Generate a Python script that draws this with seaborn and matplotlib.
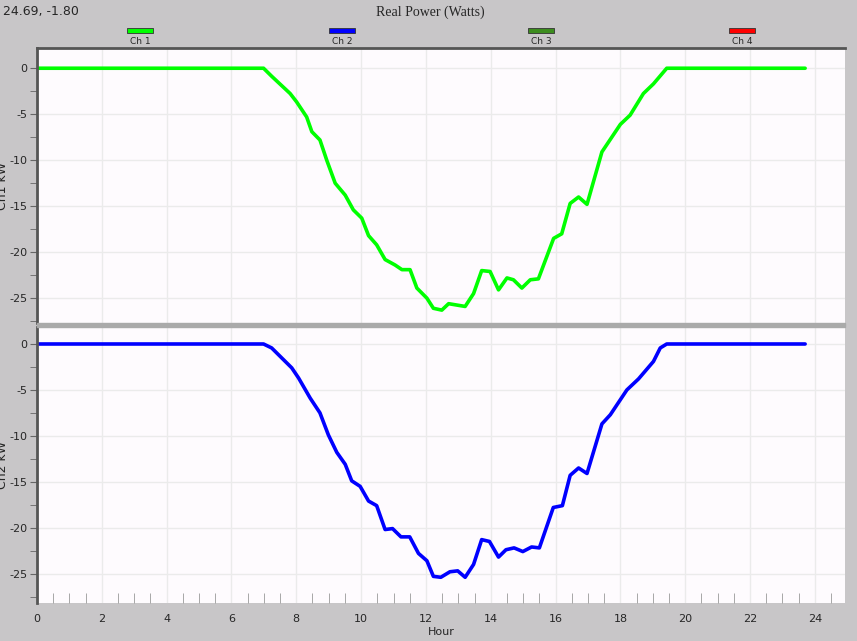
import numpy as np
import pandas as pd
import matplotlib
matplotlib.use('Agg')
from matplotlib import pyplot as plt
import seaborn as sns

# hour / kW readings
ch1_hour = [0, 6.99, 7.24, 7.81, 8.01, 8.32, 8.48, 8.73, 8.94, 9.2, 9.51, 9.76, 10.02, 10.23,
            10.48, 10.74, 11.05, 11.26, 11.51, 11.72, 12.03, 12.23, 12.49, 12.7, 13.21, 13.47,
            13.72, 13.98, 14.24, 14.5, 14.7, 14.96, 15.22, 15.47, 15.94, 16.19, 16.45, 16.71,
            16.97, 17.43, 18.0, 18.3, 18.71, 19.02, 19.43, 23.7]
ch1_kw = [0, 0, -0.87, -2.75, -3.66, -5.3, -6.9, -7.8, -10.0, -12.5, -13.8, -15.4, -16.3, -18.2,
          -19.2, -20.8, -21.4, -21.9, -21.9, -23.9, -25.0, -26.1, -26.3, -25.6, -25.9, -24.5,
          -22.0, -22.1, -24.1, -22.8, -23.0, -23.9, -23.0, -22.9, -18.5, -18.0, -14.7, -14.0,
          -14.8, -9.1, -6.1, -5.1, -2.75, -1.7, 0, 0]

ch2_hour = [0, 6.99, 7.24, 7.5, 7.86, 8.07, 8.43, 8.73, 8.99, 9.25, 9.51, 9.71, 9.97, 10.23,
            10.48, 10.74, 10.97, 11.23, 11.5, 11.77, 12.03, 12.23, 12.46, 12.74, 12.98, 13.21,
            13.47, 13.72, 13.96, 14.24, 14.47, 14.72, 14.99, 15.26, 15.5, 15.93, 16.21, 16.45,
            16.71, 16.97, 17.43, 17.69, 18.2, 18.56, 19.02, 19.23, 19.43, 23.7]
ch2_kw = [0, 0, -0.43, -1.34, -2.6, -3.7, -5.9, -7.5, -9.9, -11.8, -13.1, -14.9, -15.5, -17.1,
          -17.6, -20.2, -20.1, -21.0, -21.0, -22.8, -23.6, -25.3, -25.4, -24.8, -24.7, -25.4,
          -24.0, -21.3, -21.5, -23.2, -22.4, -22.2, -22.6, -22.1, -22.2, -17.8, -17.6, -14.3,
          -13.5, -14.1, -8.7, -7.7, -5.0, -3.8, -1.9, -0.43, 0, 0]

channels = ['Ch 1', 'Ch 2', 'Ch 3', 'Ch 4']
chan_colors = ['#00ff00', '#0000ff', '#3c8c1e', '#ff0000']

sns.set_style('white')
plt.rcParams['font.family'] = ['DejaVu Sans']
plt.rcParams['axes.unicode_minus'] = False

fig = plt.figure(figsize=(8.57, 6.41), dpi=100)
fig.patch.set_facecolor('#c8c6c8')

ax1 = fig.add_axes([37 / 857, 1 - 323 / 641, 808 / 857, 275 / 641])
ax2 = fig.add_axes([37 / 857, 1 - 603 / 641, 808 / 857, 276 / 641])

panels = [(ax1, ch1_hour, ch1_kw, chan_colors[0], 'Ch1 kW', (-27.7, 2.2)),
          (ax2, ch2_hour, ch2_kw, chan_colors[1], 'Ch2 kW', (-28.2, 1.85))]
for ax, hrs, kw, col, ylab, ylim in panels:
    df = pd.DataFrame({'Hour': hrs, 'kW': kw})
    ax.set_facecolor('#fefbfe')
    sns.lineplot(data=df, x='Hour', y='kW', ax=ax, color=col, lw=2.6, sort=False)
    ax.set_xlim(0, 24.93)
    ax.set_ylim(*ylim)
    ax.set_xticks(np.arange(0, 25, 2))
    ax.set_yticks([0, -5, -10, -15, -20, -25])
    ax.set_yticks(np.arange(-27.5, 2, 2.5), minor=True)
    ax.grid(True, color='#ebebeb', lw=1)
    ax.set_ylabel(ylab, fontsize=9)
    ax.yaxis.set_label_coords(-28 / 808, 0.5)
    ax.tick_params(axis='y', which='both', direction='out', length=5, color='#666666',
                   labelsize=8, pad=2, left=True)
    for s in ['top', 'right', 'bottom']:
        ax.spines[s].set_visible(False)
    ax.spines['left'].set_color('#555555')
    ax.spines['left'].set_linewidth(2)

ax1.spines['top'].set_visible(True)
ax1.spines['top'].set_color('#555555')
ax1.spines['top'].set_linewidth(2)
ax1.set_xlabel('')
ax1.tick_params(axis='x', bottom=False, labelbottom=False)

ax2.set_xticks(np.arange(0.5, 24.9, 0.5), minor=True)
ax2.tick_params(axis='x', which='minor', direction='in', length=7, color='#999999', bottom=True)
ax2.tick_params(axis='x', which='major', direction='in', length=0, labelsize=8, pad=8)
ax2.set_xlabel('Hour', fontsize=8, labelpad=2)

# gray separator band between panels
fig.patches.append(plt.Rectangle((37 / 857, 1 - 327 / 641), 808 / 857, 4 / 641,
                                 transform=fig.transFigure, color='#aaaaaa', zorder=5))

fig.text(3 / 857, 1 - 12 / 641, '24.69, -1.80', fontsize=9, va='center')
fig.text(430 / 857, 1 - 12 / 641, 'Real Power (Watts)', fontsize=10, va='center', ha='center',
         family=['Liberation Serif', 'DejaVu Serif'])
for name, col, px in zip(channels, chan_colors, [140, 342, 541, 742]):
    fig.patches.append(plt.Rectangle(((px - 13) / 857, 1 - 33 / 641), 26 / 857, 5 / 641,
                                     transform=fig.transFigure, facecolor=col,
                                     edgecolor='#333333', lw=0.6))
    fig.text(px / 857, 1 - 42 / 641, name, fontsize=6.5, ha='center', va='center')

fig.savefig('out.png', dpi=100, facecolor=fig.get_facecolor())
